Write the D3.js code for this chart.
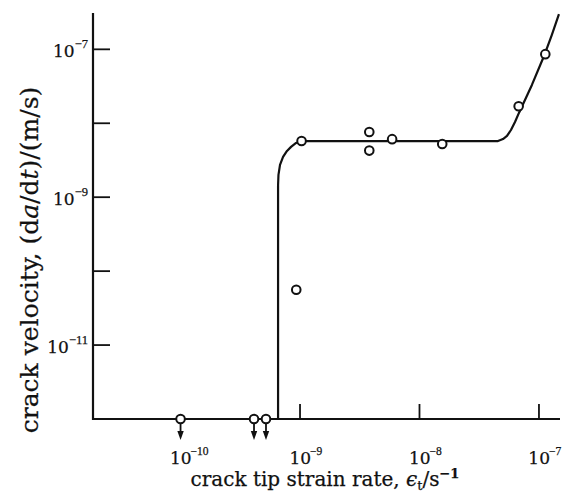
<!DOCTYPE html>
<html>
<head>
<meta charset="utf-8">
<script src="https://cdn.jsdelivr.net/npm/d3@7"></script>
<style>
  body { margin: 0; background: #fff; }
  text { font-family: "DejaVu Serif", serif; fill: #111; stroke: #111; stroke-width: 0.25px; }
  tspan.exp { font-family: "Liberation Serif", serif; }
</style>
</head>
<body>
<div id="svg-container"></div>
<script>
// Chart size
const width = 562;
const height = 495;

// Measured points: crack tip strain rate (1/s) vs crack velocity (m/s)
const strainRate = [1e-10, 4.12e-10, 5.19e-10, 9.3e-10, 1.03e-9, 3.8e-9, 3.8e-9, 5.9e-9, 1.55e-8, 6.76e-8, 1.13e-7];
const velocity   = [1e-12, 1e-12, 1e-12, 5.6e-11, 5.75e-9, 7.6e-9, 4.27e-9, 6.1e-9, 5.25e-9, 1.7e-8, 8.6e-8];
// points that are only upper bounds (drawn with arrows)
const upperBound = [true, true, true, false, false, false, false, false, false, false, false];

// Hand drawn trend curve
const curveX = [1.85e-11, 6.55e-10, 6.55e-10, 6.6e-10, 6.8e-10, 7.21e-10, 7.78e-10, 8.41e-10, 9.27e-10, 1.04e-9,
  4.54e-8, 5.0e-8, 5.4e-8, 5.83e-8, 6.3e-8, 6.8e-8, 8.73e-8, 1.12e-7, 1.28e-7, 1.47e-7];
const curveY = [1e-12, 1e-12, 1.45e-9, 2.0e-9, 2.73e-9, 3.5e-9, 4.22e-9, 4.79e-9, 5.42e-9, 5.75e-9,
  5.75e-9, 6.12e-9, 6.73e-9, 8.11e-9, 1.04e-8, 1.38e-8, 3.3e-8, 8.65e-8, 1.56e-7, 3.0e-7];

// Ticks
const xTickMarks = [1e-9, 1e-8, 1e-7];
const xTickLabels = [1e-10, 1e-9, 1e-8, 1e-7];
const yTickMarks = [1e-7, 1e-8, 1e-9, 1e-10, 1e-11];
const yTickLabels = [1e-7, 1e-9, 1e-11];

const svg = d3.select('#svg-container')
  .append('svg')
  .attr('width', width)
  .attr('height', height);

const x = d3.scaleLog().domain([1.85e-11, 1.5e-7]).range([93, 560]);
const y = d3.scaleLog().domain([1e-12, 3.1e-7]).range([419, 13]);

const exponent = v => Math.round(Math.log10(v));

// Axes lines
svg.append('line')
  .attr('x1', x.range()[0]).attr('x2', x.range()[0])
  .attr('y1', y.range()[1]).attr('y2', y.range()[0] + 1)
  .attr('stroke', '#111').attr('stroke-width', 2.2);
svg.append('line')
  .attr('x1', x.range()[0] - 1).attr('x2', x.range()[1])
  .attr('y1', y.range()[0]).attr('y2', y.range()[0])
  .attr('stroke', '#111').attr('stroke-width', 2.2);

// Tick marks point inward
svg.selectAll('line.xtick')
  .data(xTickMarks)
  .join('line')
  .attr('class', 'xtick')
  .attr('x1', d => x(d)).attr('x2', d => x(d))
  .attr('y1', y.range()[0]).attr('y2', y.range()[0] - 15)
  .attr('stroke', '#111').attr('stroke-width', 1.8);

svg.selectAll('line.ytick')
  .data(yTickMarks)
  .join('line')
  .attr('class', 'ytick')
  .attr('x1', x.range()[0]).attr('x2', x.range()[0] + 17)
  .attr('y1', d => y(d)).attr('y2', d => y(d))
  .attr('stroke', '#111').attr('stroke-width', 1.8);

// x tick labels: "10" centred on the tick, exponent hangs right
const xl = svg.selectAll('text.xlabel')
  .data(xTickLabels)
  .join('text')
  .attr('class', 'xlabel')
  .attr('x', d => x(d) - 10.6)
  .attr('y', 464)
  .attr('font-size', '17px');
xl.append('tspan').text('10');
xl.append('tspan')
  .attr('class', 'exp')
  .attr('dx', -1)
  .attr('dy', -9)
  .attr('font-size', '11.5px')
  .text(d => '\u2212' + Math.abs(exponent(d)));

// y tick labels
const yl = svg.selectAll('text.ylabel')
  .data(yTickLabels)
  .join('text')
  .attr('class', 'ylabel')
  .attr('x', 88)
  .attr('y', d => y(d) + 8)
  .attr('text-anchor', 'end')
  .attr('font-size', '17px');
yl.append('tspan').text('10');
yl.append('tspan')
  .attr('class', 'exp')
  .attr('dy', -9)
  .attr('font-size', '12.5px')
  .text(d => '\u2212' + Math.abs(exponent(d)));

// Trend curve
const curvePts = curveX.map((d, i) => [d, curveY[i]]);
svg.append('path')
  .datum(curvePts)
  .attr('fill', 'none')
  .attr('stroke', '#111')
  .attr('stroke-width', 2.2)
  .attr('stroke-linejoin', 'round')
  .attr('d', d3.line()
    .x(d => x(d[0]))
    .y(d => y(d[1])));

// Arrows under upper-bound points
const pts = strainRate.map((d, i) => ({ x: d, y: velocity[i], ub: upperBound[i] }));
const arrows = pts.filter(d => d.ub);
svg.selectAll('line.arrow')
  .data(arrows)
  .join('line')
  .attr('class', 'arrow')
  .attr('x1', d => x(d.x)).attr('x2', d => x(d.x))
  .attr('y1', d => y(d.y) + 4).attr('y2', d => y(d.y) + 14)
  .attr('stroke', '#111').attr('stroke-width', 1.8);
svg.selectAll('path.arrowhead')
  .data(arrows)
  .join('path')
  .attr('class', 'arrowhead')
  .attr('d', d => {
    const cx = x(d.x), cy = y(d.y);
    return `M${cx - 3.2},${cy + 12} L${cx + 3.2},${cy + 12} L${cx},${cy + 21} Z`;
  })
  .attr('fill', '#111');

// Open circles
svg.selectAll('circle.pt')
  .data(pts)
  .join('circle')
  .attr('class', 'pt')
  .attr('cx', d => x(d.x))
  .attr('cy', d => y(d.y))
  .attr('r', 4.3)
  .attr('fill', '#fff')
  .attr('stroke', '#111')
  .attr('stroke-width', 2);

// Axis titles
const xt = svg.append('text')
  .attr('x', 325)
  .attr('y', 486)
  .attr('text-anchor', 'middle')
  .attr('font-size', '20px');
xt.append('tspan').text('crack tip strain rate, ');
xt.append('tspan').attr('font-style', 'italic').text('\u03f5');
xt.append('tspan').attr('font-size', '13px').attr('dy', 4).text('t');
xt.append('tspan').attr('dy', -4).text('/s');
xt.append('tspan').attr('font-size', '13px').attr('font-weight', 'bold').attr('dy', -8).text('\u22121');

const yt = svg.append('text')
  .attr('transform', 'translate(38,260) rotate(-90)')
  .attr('text-anchor', 'middle')
  .attr('font-size', '25px');
yt.append('tspan').text('crack velocity, (d');
yt.append('tspan').attr('font-style', 'italic').text('a');
yt.append('tspan').text('/d');
yt.append('tspan').attr('font-style', 'italic').text('t');
yt.append('tspan').text(')/(m/s)');
</script>
</body>
</html>
